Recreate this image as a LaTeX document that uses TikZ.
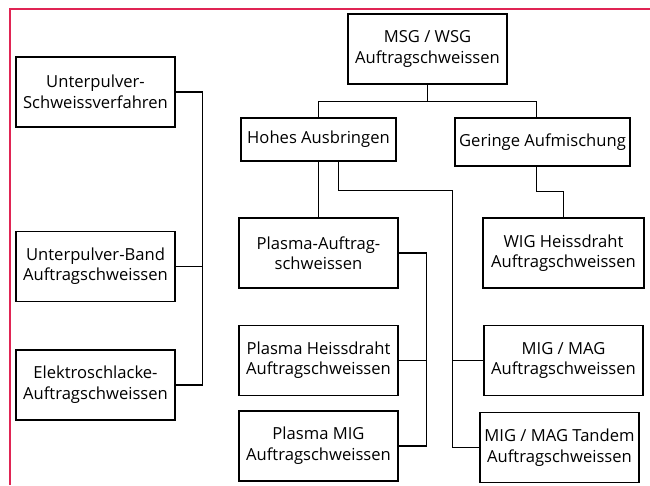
\documentclass[tikz,border=0pt]{standalone}
\usepackage{fontspec}
\setmainfont{Open Sans}
\usetikzlibrary{positioning, calc}
\definecolor{frm}{RGB}{224,36,84}
\tikzset{
  box/.style ={draw, rectangle, align=center, minimum width=159pt, minimum height=70pt, inner sep=2pt, line width=1.4pt, font=\fontsize{16.6}{20.5}\selectfont},
  lnk/.style ={line width=1.4pt},
  rim/.style ={line width=1.5pt, frm},
}

\begin{document}
\begin{tikzpicture}[x=1pt, y=-1pt]
  \useasboundingbox (0,0) rectangle (650,485);
  \draw[rim] (10,485) -- (10,9) -- (650,9);
  % left group
  \node[box] (up) at (95.5,92) {Unterpulver-\\Schweissverfahren};
  \node[box, below=103pt of up] (upb) {Unterpulver-Band\\Auftragschweissen};
  \node[box, below=47pt of upb] (ele) {Elektroschlacke-\\Auftragschweissen};
  % tree
  \node[box] (msg) at (427.5,49) {MSG / WSG\\Auftragschweissen};
  \node[box, minimum width=155pt, minimum height=43pt] (hoh) at (318.5,139.5) {Hohes Ausbringen};
  \node[box, minimum width=175pt, minimum height=48pt] (ger) at (542.5,142) {Geringe Aufmischung};
  \node[box, minimum width=161pt] (wig) at (563.5,253) {WIG Heissdraht\\Auftragschweissen};
  \node[box] (pla) at (318.5,253) {Plasma-Auftrag-\\schweissen};
  \node[box, below=36pt of pla] (plh) {Plasma Heissdraht\\Auftragschweissen};
  \node[box, below=14pt of plh] (plm) {Plasma MIG\\Auftragschweissen};
  \node[box] (mig) at (563.5,360.5) {MIG / MAG\\Auftragschweissen};
  \node[box] (mit) at (559.5,447.5) {MIG / MAG Tandem\\Auftragschweissen};
  % connectors
  \draw[lnk] (msg.south) -- ++(0,17) coordinate (j1);
  \draw[lnk] (hoh.north) |- (j1) -| ([xshift=-6pt]ger.north);
  \draw[lnk] ([xshift=-6pt]ger.south) -- ++(0,25) -| (wig.north);
  \draw[lnk] (hoh.south) -- (pla.north);
  \draw[lnk] ([xshift=20pt]hoh.south) |- ++(114,29) coordinate (j2) |- (mit.west);
  \draw[lnk] (mig.west) -- (mig.west -| j2);
  \draw[lnk] (pla.east) -- ++(28,0) coordinate (j3) |- (plm.east);
  \draw[lnk] (plh.east) -- (plh.east -| j3);
  \draw[lnk] (up.east) -- ++(27,0) coordinate (j4) |- (ele.east);
  \draw[lnk] (upb.east) -- (upb.east -| j4);
\end{tikzpicture}
\end{document}
